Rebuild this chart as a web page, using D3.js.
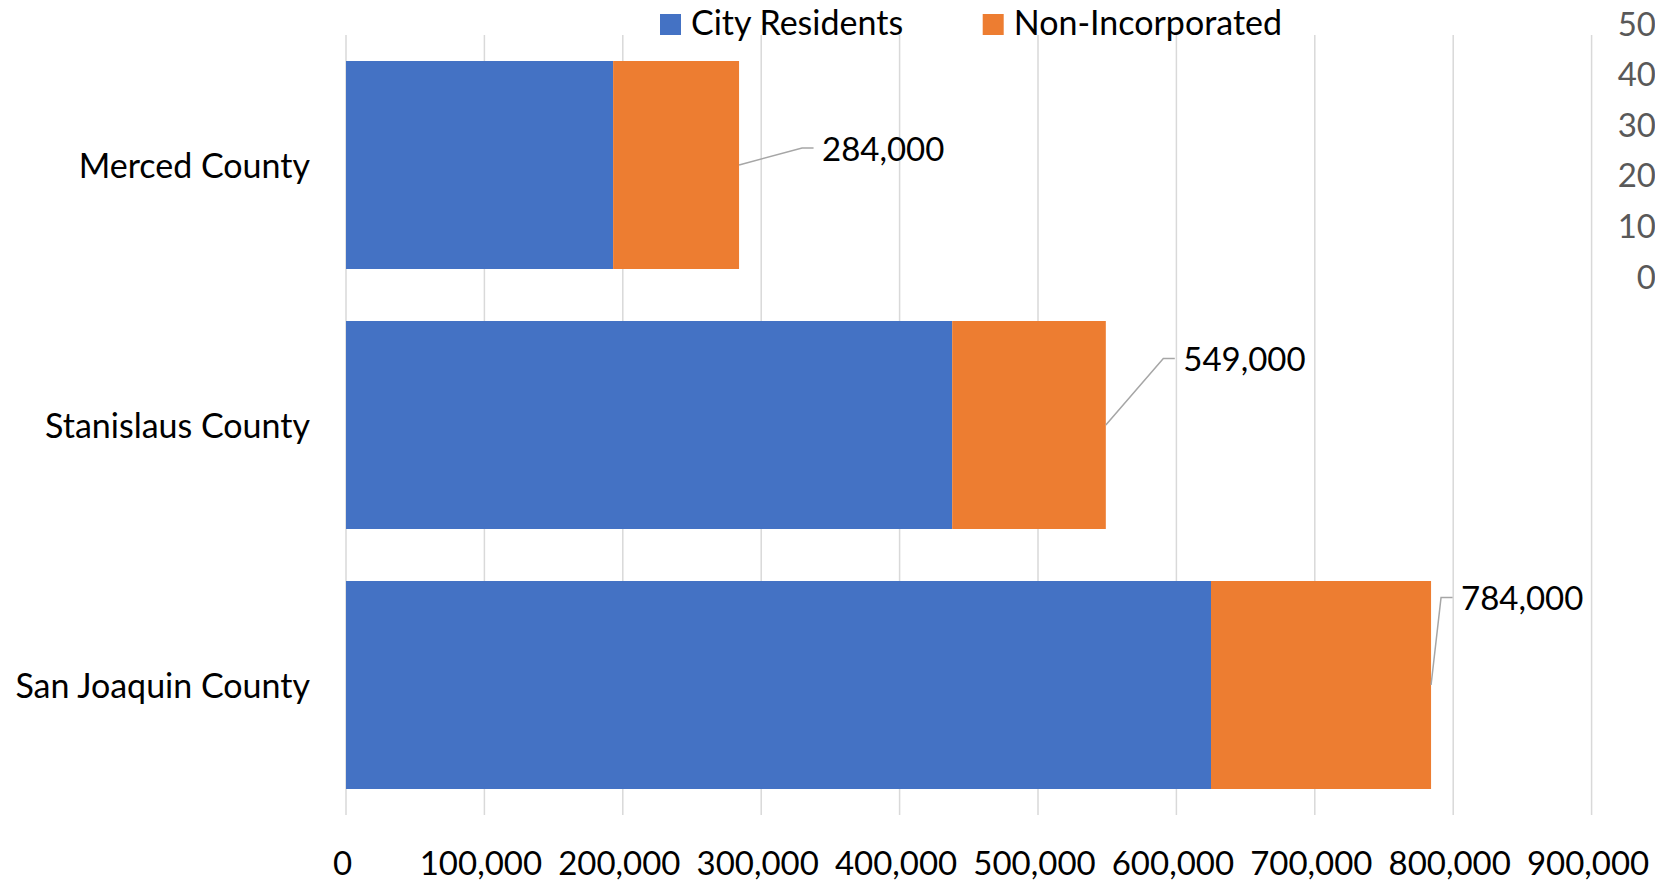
<!DOCTYPE html>
<html>
<head>
<meta charset="utf-8">
<script src="https://cdn.jsdelivr.net/npm/d3@7"></script>
<style>
  html, body { margin: 0; padding: 0; background: #fff; }
  svg { display: block; font-family: Lato, "Open Sans", sans-serif; }
</style>
</head>
<body>
<svg id="chart" width="1655" height="883"></svg>
<script>
// ---- data ----
const categories = ["Merced County", "Stanislaus County", "San Joaquin County"];
const seriesNames = ["City Residents", "Non-Incorporated"];
const cityResidents = [193000, 438000, 625000];
const nonIncorporated = [91000, 111000, 159000];
const xTickValues = [0, 100000, 200000, 300000, 400000, 500000, 600000, 700000, 800000, 900000];
const secondaryTickValues = [0, 10, 20, 30, 40, 50];

// ---- layout / style (not data) ----
const colors = ["#4472C4", "#ED7D31"];
const labelOffsets = [ {dx: 83, dy: -4.5}, {dx: 77.5, dy: -54}, {dx: 30, dy: -75} ];
const FONT = 34;
const FONT_TICK = 33;

const svg = d3.select("#chart");
const plot = {left: 346, right: 1591.6, top: 35, bottom: 815};

const x = d3.scaleLinear().domain([0, 900000]).range([plot.left, plot.right]);
const y = d3.scaleBand().domain(categories).range([plot.top, plot.bottom])
  .paddingInner(0.2).paddingOuter(0.1);

// gridlines
svg.append("g").selectAll("line").data(xTickValues).join("line")
  .attr("x1", d => x(d)).attr("x2", d => x(d))
  .attr("y1", plot.top).attr("y2", plot.bottom)
  .attr("stroke", "#d9d9d9").attr("stroke-width", 1.5);

// stacked data
const rows = categories.map((c, i) => ({cat: c, "City Residents": cityResidents[i], "Non-Incorporated": nonIncorporated[i]}));
const stacked = d3.stack().keys(seriesNames)(rows);

svg.append("g").selectAll("g").data(stacked).join("g")
  .attr("fill", (d, i) => colors[i])
  .selectAll("rect").data(d => d).join("rect")
  .attr("x", d => x(d[0]))
  .attr("width", d => x(d[1]) - x(d[0]))
  .attr("y", d => y(d.data.cat))
  .attr("height", y.bandwidth());

// x axis labels
const xAxis = d3.axisBottom(x).tickValues(xTickValues).tickFormat(d3.format(",")).tickSize(0);
const gx = svg.append("g").attr("transform", `translate(-4, 0)`).call(xAxis);
gx.select(".domain").remove();
gx.selectAll("text").attr("y", 0).attr("dy", null)
  .attr("transform", "translate(0, 875)")
  .attr("font-size", FONT_TICK).attr("font-family", "Lato").attr("fill", "#000");

// category labels
const yAxis = d3.axisLeft(y).tickSize(0);
const gy = svg.append("g").attr("transform", `translate(310, 0)`).call(yAxis);
gy.select(".domain").remove();
gy.selectAll("text").attr("x", 0).attr("dy", null).attr("y", 12.5)
  .attr("font-size", FONT).attr("font-family", "Lato").attr("fill", "#000")
  .attr("text-anchor", "end");

// total labels + leader lines
const totals = rows.map((r, i) => ({cat: r.cat, total: cityResidents[i] + nonIncorporated[i], off: labelOffsets[i]}));
const lbl = svg.append("g").selectAll("g").data(totals).join("g");
lbl.append("polyline")
  .attr("points", d => {
    const bx = x(d.total), by = y(d.cat) + y.bandwidth() / 2;
    const tx = bx + d.off.dx, base = by + d.off.dy, my = base - 12.5;
    return [[bx, by], [tx - 20, my], [tx - 8.5, my]].map(p => p.join(",")).join(" ");
  })
  .attr("fill", "none").attr("stroke", "#a6a6a6").attr("stroke-width", 1.5);
lbl.append("text")
  .attr("x", d => x(d.total) + d.off.dx)
  .attr("y", d => y(d.cat) + y.bandwidth() / 2 + d.off.dy)
  .attr("font-size", FONT_TICK).attr("fill", "#000")
  .text(d => d3.format(",")(d.total));

// legend
const legendX = [660, 982.7];
const leg = svg.append("g").selectAll("g").data(seriesNames).join("g")
  .attr("transform", (d, i) => `translate(${legendX[i]}, 14)`);
leg.append("rect").attr("width", 21).attr("height", 21).attr("fill", (d, i) => colors[i]);
leg.append("text").attr("x", 31).attr("y", 20.5).attr("font-size", FONT).attr("fill", "#000").text(d => d);

// secondary (empty) axis labels on the right
const y2 = d3.scaleLinear().domain([0, 50]).range([276.5, 23.5]);
const y2Axis = d3.axisRight(y2).tickValues(secondaryTickValues).tickFormat(d3.format("d")).tickSize(0);
const g2 = svg.append("g").attr("transform", "translate(1656, 0)").call(y2Axis);
g2.select(".domain").remove();
g2.selectAll("text").attr("x", 0).attr("dy", null).attr("y", 11.5)
  .attr("text-anchor", "end").attr("font-size", FONT_TICK).attr("font-family", "Lato").attr("fill", "#595959");
</script>
</body>
</html>
